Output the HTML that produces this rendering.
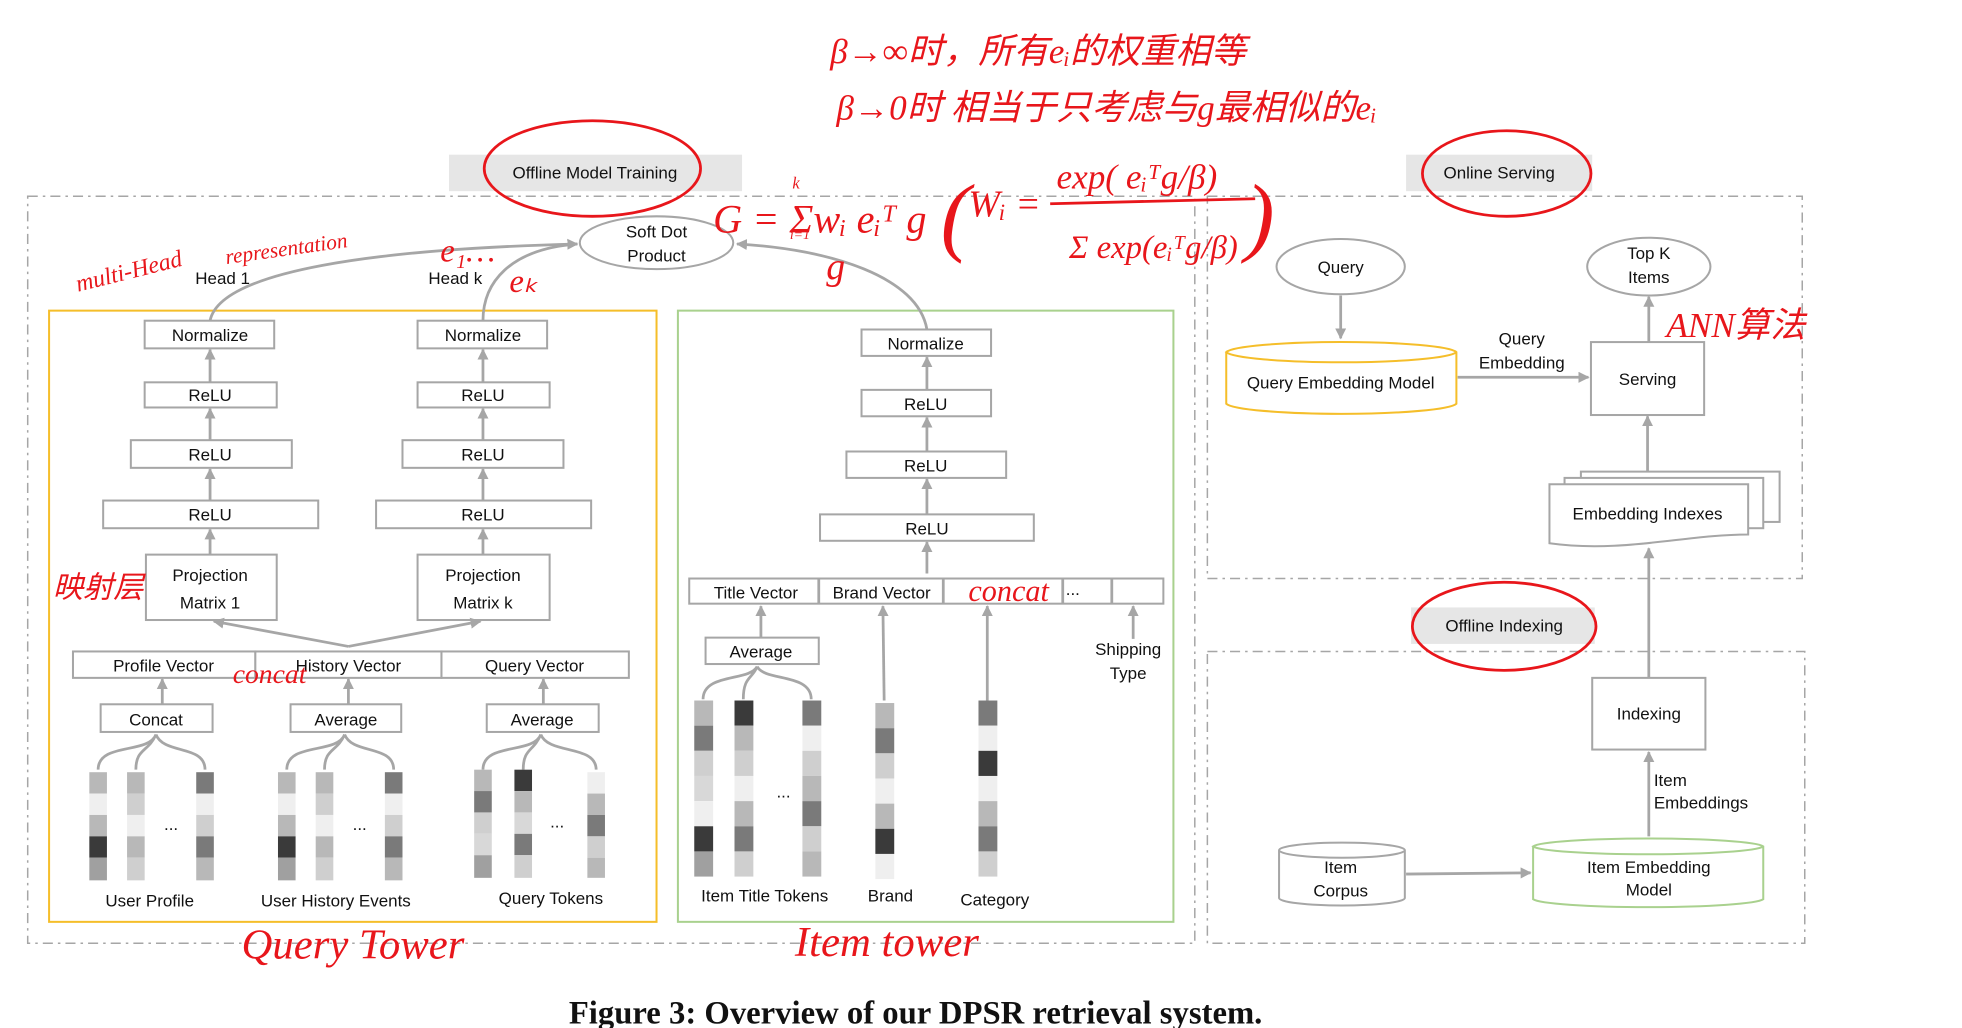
<!DOCTYPE html>
<html><head><meta charset="utf-8"><style>
html,body{margin:0;padding:0;background:#fff;}
svg{display:block;}
text{font-family:"Liberation Sans","Noto Sans CJK SC",sans-serif;fill:#111;}
.r{fill:#fff;stroke:#a6a6a6;stroke-width:1.6;}
.l{stroke:#a6a6a6;stroke-width:2.2;fill:none;}
.t{font-size:13.5px;text-anchor:middle;}
.red{fill:#e8161b;font-family:"Liberation Serif","Noto Sans CJK SC",serif;font-style:italic;}
.re{fill:none;stroke:#e8161b;stroke-width:2.2;}
.dash{fill:none;stroke:#a6a6a6;stroke-width:1.2;stroke-dasharray:8 4 2 4;}
</style></head><body>
<svg width="1962" height="1028" viewBox="0 0 1560 817.4" xmlns="http://www.w3.org/2000/svg">
<defs>
<marker id="a" viewBox="0 0 10 10" refX="9" refY="5" markerWidth="4" markerHeight="4" orient="auto-start-reverse"><path d="M0,0L10,5L0,10z" fill="#a6a6a6"/></marker>
</defs>
<rect width="1560" height="817.4" fill="#fff"/>
<rect class="dash" x="22" y="156" width="928" height="594"/>
<rect class="dash" x="960" y="156" width="473" height="304"/>
<rect class="dash" x="960" y="518" width="475" height="232"/>
<rect x="357" y="123" width="233" height="29" fill="#e6e6e6"/>
<text class="t" x="473" y="142">Offline Model Training</text>
<rect x="1118" y="123" width="148" height="29" fill="#e6e6e6"/>
<text class="t" x="1192" y="142">Online Serving</text>
<rect x="1122" y="483" width="146" height="29" fill="#e6e6e6"/>
<text class="t" x="1196" y="502">Offline Indexing</text>
<rect x="39" y="247" width="483" height="486" fill="none" stroke="#f5be2a" stroke-width="1.6"/>
<rect x="539" y="247" width="394" height="486" fill="none" stroke="#a9d18e" stroke-width="1.6"/>

<g>
<rect class="r" x="115" y="255" width="103" height="22"/><text class="t" x="167" y="271">Normalize</text>
<rect class="r" x="115" y="304" width="105" height="20"/><text class="t" x="167" y="319">ReLU</text>
<rect class="r" x="104" y="350" width="128" height="22"/><text class="t" x="167" y="366">ReLU</text>
<rect class="r" x="82" y="398" width="171" height="22"/><text class="t" x="167" y="414">ReLU</text>
<rect class="r" x="116" y="441" width="104" height="52"/><text class="t" x="167" y="462" font-size="15">Projection</text><text class="t" x="167" y="484" font-size="15">Matrix 1</text>
<line class="l" x1="167" y1="304" x2="167" y2="278" marker-end="url(#a)"/>
<line class="l" x1="167" y1="350" x2="167" y2="325" marker-end="url(#a)"/>
<line class="l" x1="167" y1="398" x2="167" y2="373" marker-end="url(#a)"/>
<line class="l" x1="167" y1="441" x2="167" y2="421" marker-end="url(#a)"/>
</g>
<g>
<rect class="r" x="332" y="255" width="103" height="22"/><text class="t" x="384" y="271">Normalize</text>
<rect class="r" x="332" y="304" width="105" height="20"/><text class="t" x="384" y="319">ReLU</text>
<rect class="r" x="320" y="350" width="128" height="22"/><text class="t" x="384" y="366">ReLU</text>
<rect class="r" x="299" y="398" width="171" height="22"/><text class="t" x="384" y="414">ReLU</text>
<rect class="r" x="332" y="441" width="105" height="52"/><text class="t" x="384" y="462" font-size="15">Projection</text><text class="t" x="384" y="484" font-size="15">Matrix k</text>
<line class="l" x1="384" y1="304" x2="384" y2="278" marker-end="url(#a)"/>
<line class="l" x1="384" y1="350" x2="384" y2="325" marker-end="url(#a)"/>
<line class="l" x1="384" y1="398" x2="384" y2="373" marker-end="url(#a)"/>
<line class="l" x1="384" y1="441" x2="384" y2="421" marker-end="url(#a)"/>
</g>
<line class="l" x1="277" y1="514" x2="170" y2="494" marker-end="url(#a)"/>
<line class="l" x1="277" y1="514" x2="382" y2="494" marker-end="url(#a)"/>
<rect class="r" x="58" y="518" width="145" height="21"/><text class="t" x="130" y="534" font-size="15">Profile Vector</text>
<rect class="r" x="203" y="518" width="148" height="21"/><text class="t" x="277" y="534" font-size="15">History Vector</text>
<rect class="r" x="351" y="518" width="149" height="21"/><text class="t" x="425" y="534" font-size="15">Query Vector</text>
<rect class="r" x="80" y="560" width="89" height="22"/><text class="t" x="124" y="577" font-size="15">Concat</text>
<rect class="r" x="231" y="560" width="88" height="22"/><text class="t" x="275" y="577" font-size="15">Average</text>
<rect class="r" x="387" y="560" width="89" height="22"/><text class="t" x="431" y="577" font-size="15">Average</text>
<line class="l" x1="129" y1="560" x2="129" y2="540" marker-end="url(#a)"/>
<line class="l" x1="277" y1="560" x2="277" y2="540" marker-end="url(#a)"/>
<line class="l" x1="432" y1="560" x2="432" y2="540" marker-end="url(#a)"/>
<g class="l">
<path d="M78,612 C78,590 118,600 124,584 M108,612 C108,595 118,598 124,584 M163,612 C163,592 130,600 124,584"/>
<path d="M228,612 C228,590 268,600 274,584 M258,612 C258,595 268,598 274,584 M313,612 C313,592 280,600 274,584"/>
<path d="M384,612 C384,590 424,600 430,584 M416,612 C416,595 424,598 430,584 M474,612 C474,592 436,600 430,584"/>
<path d="M559,556 C559,535 596,542 602,530 M591,556 C591,538 598,540 602,530 M645,556 C645,535 608,542 602,530"/>
</g>
<g>
<g transform="translate(71,614)"><rect width="14" height="17" fill="#b8b8b8"/><rect y="17" width="14" height="17" fill="#efefef"/><rect y="34" width="14" height="17" fill="#b8b8b8"/><rect y="51" width="14" height="17" fill="#3a3a3a"/><rect y="68" width="14" height="18" fill="#a0a0a0"/></g>
<g transform="translate(101,614)"><rect width="14" height="17" fill="#b8b8b8"/><rect y="17" width="14" height="17" fill="#cfcfcf"/><rect y="34" width="14" height="17" fill="#efefef"/><rect y="51" width="14" height="17" fill="#b8b8b8"/><rect y="68" width="14" height="18" fill="#cfcfcf"/></g>
<g transform="translate(156,614)"><rect width="14" height="17" fill="#7a7a7a"/><rect y="17" width="14" height="17" fill="#efefef"/><rect y="34" width="14" height="17" fill="#cfcfcf"/><rect y="51" width="14" height="17" fill="#7a7a7a"/><rect y="68" width="14" height="18" fill="#b8b8b8"/></g>
<g transform="translate(221,614)"><rect width="14" height="17" fill="#b8b8b8"/><rect y="17" width="14" height="17" fill="#efefef"/><rect y="34" width="14" height="17" fill="#b8b8b8"/><rect y="51" width="14" height="17" fill="#3a3a3a"/><rect y="68" width="14" height="18" fill="#a0a0a0"/></g>
<g transform="translate(251,614)"><rect width="14" height="17" fill="#b8b8b8"/><rect y="17" width="14" height="17" fill="#cfcfcf"/><rect y="34" width="14" height="17" fill="#efefef"/><rect y="51" width="14" height="17" fill="#b8b8b8"/><rect y="68" width="14" height="18" fill="#cfcfcf"/></g>
<g transform="translate(306,614)"><rect width="14" height="17" fill="#7a7a7a"/><rect y="17" width="14" height="17" fill="#efefef"/><rect y="34" width="14" height="17" fill="#cfcfcf"/><rect y="51" width="14" height="17" fill="#7a7a7a"/><rect y="68" width="14" height="18" fill="#b8b8b8"/></g>
<g transform="translate(377,612)"><rect width="14" height="17" fill="#b8b8b8"/><rect y="17" width="14" height="17" fill="#7a7a7a"/><rect y="34" width="14" height="17" fill="#cfcfcf"/><rect y="51" width="14" height="17" fill="#d8d8d8"/><rect y="68" width="14" height="18" fill="#a0a0a0"/></g>
<g transform="translate(409,612)"><rect width="14" height="17" fill="#3a3a3a"/><rect y="17" width="14" height="17" fill="#b8b8b8"/><rect y="34" width="14" height="17" fill="#d8d8d8"/><rect y="51" width="14" height="17" fill="#7a7a7a"/><rect y="68" width="14" height="18" fill="#cfcfcf"/></g>
<g transform="translate(467,614)"><rect width="14" height="17" fill="#efefef"/><rect y="17" width="14" height="17" fill="#b8b8b8"/><rect y="34" width="14" height="17" fill="#7a7a7a"/><rect y="51" width="14" height="17" fill="#cfcfcf"/><rect y="68" width="14" height="16" fill="#b8b8b8"/></g>
</g>
<text class="t" x="136" y="660">...</text><text class="t" x="286" y="660">...</text><text class="t" x="443" y="658">...</text>
<text class="t" x="119" y="721">User Profile</text>
<text class="t" x="267" y="721">User History Events</text>
<text class="t" x="438" y="719">Query Tokens</text>

<ellipse cx="522" cy="193" rx="61" ry="21" fill="#fff" stroke="#a6a6a6" stroke-width="1.6"/>
<text class="t" x="522" y="189">Soft Dot</text><text class="t" x="522" y="208">Product</text>
<path class="l" stroke-width="3" d="M167,255 C175,215 300,198 459,194" marker-end="url(#a)"/>
<path class="l" stroke-width="3" d="M384,255 C384,225 405,198 459,194"/>
<path class="l" stroke-width="3" d="M737,262 C730,220 660,198 586,194" marker-end="url(#a)"/>
<text class="t" x="177" y="226">Head 1</text><text class="t" x="362" y="226">Head k</text>

<rect class="r" x="685" y="262" width="103" height="21"/><text class="t" x="736" y="278">Normalize</text>
<rect class="r" x="685" y="310" width="103" height="21"/><text class="t" x="736" y="326">ReLU</text>
<rect class="r" x="673" y="359" width="127" height="21"/><text class="t" x="736" y="375">ReLU</text>
<rect class="r" x="652" y="409" width="170" height="21"/><text class="t" x="737" y="425">ReLU</text>
<line class="l" x1="737" y1="310" x2="737" y2="284" marker-end="url(#a)"/>
<line class="l" x1="737" y1="359" x2="737" y2="332" marker-end="url(#a)"/>
<line class="l" x1="737" y1="409" x2="737" y2="381" marker-end="url(#a)"/>
<line class="l" x1="737" y1="456" x2="737" y2="431" marker-end="url(#a)"/>
<rect class="r" x="548" y="460" width="377" height="20"/>
<line class="l" stroke-width="1.6" x1="651" y1="460" x2="651" y2="480"/>
<line class="l" stroke-width="1.6" x1="750" y1="460" x2="750" y2="480"/>
<line class="l" stroke-width="1.6" x1="845" y1="460" x2="845" y2="480"/>
<line class="l" stroke-width="1.6" x1="884" y1="460" x2="884" y2="480"/>
<text class="t" x="601" y="476">Title Vector</text><text class="t" x="701" y="476">Brand Vector</text><text class="t" x="853" y="473">...</text>
<rect class="r" x="561" y="507" width="90" height="21"/><text class="t" x="605" y="523">Average</text>
<line class="l" x1="605" y1="507" x2="605" y2="482" marker-end="url(#a)"/>
<line class="l" x1="703" y1="557" x2="702" y2="482" marker-end="url(#a)"/>
<line class="l" x1="785" y1="557" x2="785" y2="482" marker-end="url(#a)"/>
<line class="l" x1="901" y1="508" x2="901" y2="482" marker-end="url(#a)"/>
<g>
<g transform="translate(552,557)"><rect width="15" height="20" fill="#b8b8b8"/><rect y="20" width="15" height="20" fill="#7a7a7a"/><rect y="40" width="15" height="20" fill="#cfcfcf"/><rect y="60" width="15" height="20" fill="#d8d8d8"/><rect y="80" width="15" height="20" fill="#efefef"/><rect y="100" width="15" height="20" fill="#3a3a3a"/><rect y="120" width="15" height="20" fill="#a0a0a0"/></g>
<g transform="translate(584,557)"><rect width="15" height="20" fill="#3a3a3a"/><rect y="20" width="15" height="20" fill="#b8b8b8"/><rect y="40" width="15" height="20" fill="#cfcfcf"/><rect y="60" width="15" height="20" fill="#efefef"/><rect y="80" width="15" height="20" fill="#b8b8b8"/><rect y="100" width="15" height="20" fill="#7a7a7a"/><rect y="120" width="15" height="20" fill="#cfcfcf"/></g>
<g transform="translate(638,557)"><rect width="15" height="20" fill="#7a7a7a"/><rect y="20" width="15" height="20" fill="#efefef"/><rect y="40" width="15" height="20" fill="#cfcfcf"/><rect y="60" width="15" height="20" fill="#b8b8b8"/><rect y="80" width="15" height="20" fill="#7a7a7a"/><rect y="100" width="15" height="20" fill="#cfcfcf"/><rect y="120" width="15" height="20" fill="#b8b8b8"/></g>
<g transform="translate(696,559)"><rect width="15" height="20" fill="#b8b8b8"/><rect y="20" width="15" height="20" fill="#7a7a7a"/><rect y="40" width="15" height="20" fill="#cfcfcf"/><rect y="60" width="15" height="20" fill="#efefef"/><rect y="80" width="15" height="20" fill="#b8b8b8"/><rect y="100" width="15" height="20" fill="#3a3a3a"/><rect y="120" width="15" height="20" fill="#efefef"/></g>
<g transform="translate(778,557)"><rect width="15" height="20" fill="#7a7a7a"/><rect y="20" width="15" height="20" fill="#efefef"/><rect y="40" width="15" height="20" fill="#3a3a3a"/><rect y="60" width="15" height="20" fill="#efefef"/><rect y="80" width="15" height="20" fill="#b8b8b8"/><rect y="100" width="15" height="20" fill="#7a7a7a"/><rect y="120" width="15" height="20" fill="#cfcfcf"/></g>
</g>
<text class="t" x="623" y="634">...</text>
<text class="t" x="608" y="717">Item Title Tokens</text><text class="t" x="708" y="717">Brand</text><text class="t" x="791" y="720">Category</text>
<text class="t" x="897" y="521">Shipping</text><text class="t" x="897" y="540">Type</text>

<ellipse cx="1066" cy="212" rx="51" ry="22" fill="#fff" stroke="#a6a6a6" stroke-width="1.6"/><text class="t" x="1066" y="217">Query</text>
<line class="l" x1="1066" y1="235" x2="1066" y2="269" marker-end="url(#a)"/>
<path d="M975,280 L975,321 A92,9 0 0 0 1158,321 L1158,280 A92,9 0 0 0 975,280 A92,9 0 0 0 1158,280" fill="#fff" stroke="#f5be2a" stroke-width="1.6"/>
<text class="t" x="1066" y="309">Query Embedding Model</text>
<line class="l" stroke-width="3" x1="1159" y1="300" x2="1263" y2="300" marker-end="url(#a)"/>
<text class="t" x="1210" y="274">Query</text><text class="t" x="1210" y="293">Embedding</text>
<rect class="r" x="1265" y="272" width="90" height="58"/><text class="t" x="1310" y="306">Serving</text>
<ellipse cx="1311" cy="212" rx="49" ry="23" fill="#fff" stroke="#a6a6a6" stroke-width="1.6"/><text class="t" x="1311" y="206">Top K</text><text class="t" x="1311" y="225">Items</text>
<line class="l" x1="1311" y1="272" x2="1311" y2="236" marker-end="url(#a)"/>
<line class="l" x1="1310" y1="378" x2="1310" y2="331" marker-end="url(#a)"/>
<rect class="r" x="1257" y="375" width="158" height="40"/>
<rect class="r" x="1244" y="380" width="158" height="40"/>
<path d="M1232,385 L1390,385 L1390,425 C1340,425 1290,440 1232,432 Z" fill="#fff" stroke="#a6a6a6" stroke-width="1.6"/>
<text class="t" x="1310" y="413">Embedding Indexes</text>
<rect class="r" x="1266" y="539" width="90" height="57"/><text class="t" x="1311" y="572">Indexing</text>
<line class="l" x1="1311" y1="539" x2="1311" y2="436" marker-end="url(#a)"/>
<line class="l" x1="1311" y1="665" x2="1311" y2="598" marker-end="url(#a)"/>
<text x="1315" y="625" font-size="13.5">Item</text><text x="1315" y="643" font-size="13.5">Embeddings</text>
<path d="M1017,676 L1017,714 A50,6 0 0 0 1117,714 L1117,676 A50,6 0 0 0 1017,676 A50,6 0 0 0 1117,676" fill="#fff" stroke="#a6a6a6" stroke-width="1.6"/>
<text class="t" x="1066" y="694">Item</text><text class="t" x="1066" y="713">Corpus</text>
<line class="l" stroke-width="3" x1="1118" y1="695" x2="1217" y2="694" marker-end="url(#a)"/>
<path d="M1219,673 L1219,715 A92,7 0 0 0 1402,715 L1402,673 A92,7 0 0 0 1219,673 A92,7 0 0 0 1402,673" fill="#fff" stroke="#a9d18e" stroke-width="1.6"/>
<text class="t" x="1311" y="694">Item Embedding</text><text class="t" x="1311" y="712">Model</text>

<text x="728" y="814" text-anchor="middle" font-weight="bold" font-size="26" style="font-family:'Liberation Serif',serif">Figure 3: Overview of our DPSR retrieval system.</text>

<ellipse class="re" cx="471" cy="134" rx="86" ry="38"/>
<ellipse class="re" cx="1198" cy="138" rx="67" ry="34"/>
<ellipse class="re" cx="1196" cy="498" rx="73" ry="35"/>
<text class="red" x="660" y="50" font-size="28">β→∞时，所有eᵢ的权重相等</text>
<text class="red" x="665" y="95" font-size="28">β→0时  相当于只考虑与g最相似的eᵢ</text>
<text class="red" x="567" y="185" font-size="32">G = Σwᵢ eᵢᵀ g</text>
<text class="red" x="630" y="150" font-size="13">k</text><text class="red" x="628" y="190" font-size="11">i=1</text>
<text class="red" x="748" y="195" font-size="70" font-style="normal">(</text>
<text class="red" x="770" y="172" font-size="30">Wᵢ =</text>
<text class="red" x="840" y="150" font-size="28">exp( eᵢᵀg/β)</text>
<line class="re" x1="835" y1="162" x2="998" y2="158" stroke-width="2.5"/>
<text class="red" x="850" y="205" font-size="26">Σ exp(eᵢᵀg/β)</text>
<text class="red" x="990" y="195" font-size="70" font-style="normal">)</text>
<text class="red" x="657" y="222" font-size="30">g</text>
<text class="red" x="62" y="232" font-size="19" transform="rotate(-14 62 232)">multi-Head</text>
<text class="red" x="180" y="210" font-size="17" transform="rotate(-8 180 210)">representation</text>
<text class="red" x="350" y="208" font-size="26">e₁…</text>
<text class="red" x="405" y="232" font-size="26">eₖ</text>
<text class="red" x="42" y="475" font-size="24" font-style="normal">映射层</text>
<text class="red" x="185" y="543" font-size="22">concat</text>
<text class="red" x="770" y="478" font-size="24">concat</text>
<text class="red" x="1325" y="268" font-size="28" font-style="normal">ANN算法</text>
<text class="red" x="192" y="762" font-size="34">Query  Tower</text>
<text class="red" x="632" y="760" font-size="34">Item  tower</text>
</svg>
</body></html>
